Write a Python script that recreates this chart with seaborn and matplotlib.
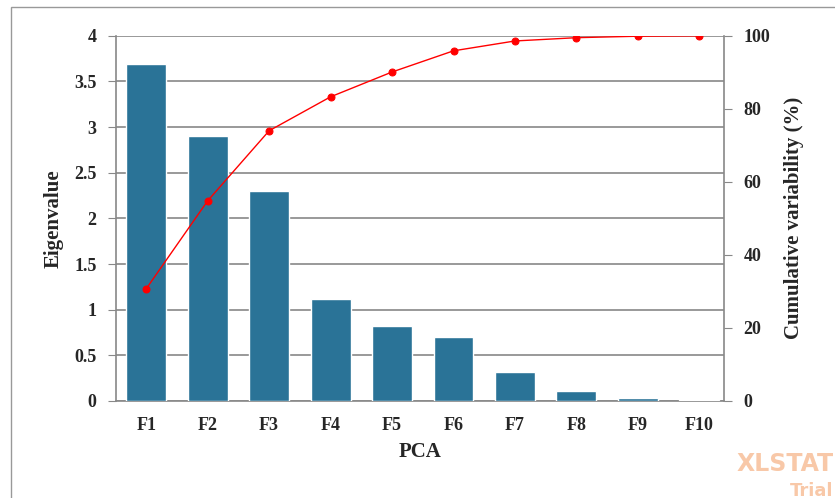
import seaborn as sns
import matplotlib.pyplot as plt
import pandas as pd
from matplotlib.patches import Rectangle

# Values
factors = ["F1", "F2", "F3", "F4", "F5", "F6", "F7", "F8", "F9", "F10"]
eigenvalues = [3.69, 2.90, 2.30, 1.12, 0.82, 0.70, 0.32, 0.11, 0.035, 0.01]
cumulative = [30.7, 54.8, 74.0, 83.3, 90.1, 95.9, 98.6, 99.5, 99.9, 100.0]

df = pd.DataFrame({"PCA": factors, "Eigenvalue": eigenvalues, "Cumulative": cumulative})

sns.set_style("white")
plt.rcParams["font.family"] = ["Liberation Serif", "DejaVu Serif"]
plt.rcParams["font.weight"] = "bold"

fig = plt.figure(figsize=(8.35, 4.98), dpi=100)
ax = fig.add_axes([0.139, 0.195, 0.728, 0.733])

grey = "#888888"
sns.barplot(data=df, x="PCA", y="Eigenvalue", ax=ax, color="#2A7397",
            width=0.65, saturation=1, zorder=3)
ax.set_ylim(0, 4)
ax.set_yticks([0, 0.5, 1, 1.5, 2, 2.5, 3, 3.5, 4])
ax.set_yticklabels(["0", "0.5", "1", "1.5", "2", "2.5", "3", "3.5", "4"])
ax.grid(axis="y", color=grey, linewidth=1.2, zorder=0)
ax.set_axisbelow(True)
ax.tick_params(axis="y", left=True, length=6, color=grey, labelsize=13, pad=8)
ax.tick_params(axis="x", bottom=False, labelsize=13, pad=8)
ax.set_xlabel("PCA", fontsize=15, fontweight="bold", labelpad=6)
ax.set_ylabel("Eigenvalue", fontsize=15, fontweight="bold", labelpad=8)
for side in ["left", "right", "bottom"]:
    ax.spines[side].set_color(grey)
    ax.spines[side].set_linewidth(1.2)
ax.spines["top"].set_visible(False)

ax2 = ax.twinx()
sns.lineplot(data=df, x="PCA", y="Cumulative", ax=ax2, color="red",
             marker="o", markersize=5, markeredgecolor="red", linewidth=1)
ax2.set_ylim(0, 100)
ax2.set_yticks([0, 20, 40, 60, 80, 100])
ax2.set_ylabel("Cumulative variability (%)", fontsize=15, fontweight="bold", labelpad=10)
ax2.tick_params(axis="y", right=True, length=6, color=grey, labelsize=13, pad=8)
for sp in ax2.spines.values():
    sp.set_visible(False)
ax2.grid(False)
ax.set_xlim(-0.49, 9.4)

# Outer frame and watermark
fig.patches.append(Rectangle((11 / 835, -0.1), 1.1, 1 - 7 / 498 + 0.1,
                             transform=fig.transFigure, fill=False,
                             edgecolor="#999999", linewidth=1))
fig.text(0.998, 0.055, "XLSTAT", ha="right", fontsize=17, fontweight="bold",
         color="#F4A46E", alpha=0.6, family="DejaVu Sans")
fig.text(0.998, 0.005, "Trial", ha="right", fontsize=13, fontweight="bold",
         color="#F4A46E", alpha=0.6, family="DejaVu Sans")

fig.savefig("out.png", dpi=100)
